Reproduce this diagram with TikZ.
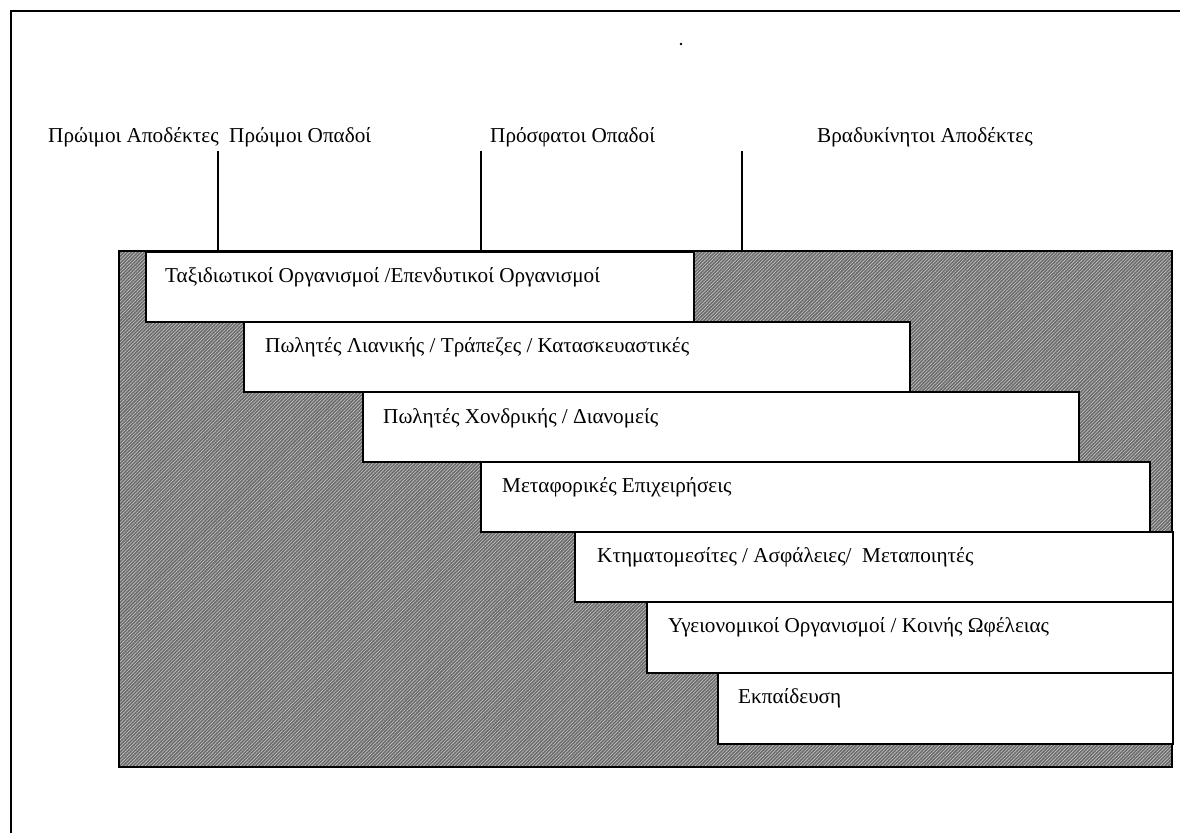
\documentclass[tikz,border=0pt]{standalone}
\usepackage{fontspec}
\setmainfont{Liberation Serif}
\usetikzlibrary{patterns.meta,calc}
\begin{document}
\begin{tikzpicture}[x=1pt,y=-1pt,
  frameline/.style={line width=1.4pt},
  grayfill/.style={fill=black!58,
     postaction={pattern={Lines[angle=45,distance=2.4pt,line width=0.6pt]},pattern color=black!22}},
  grayedge/.style={draw=black,line width=2.4pt},
  whitebox/.style={draw=black,line width=2pt,fill=white,rectangle,anchor=north west,inner sep=0pt},
  boxtext/.style={anchor=base west,font=\fontsize{21.2}{24}\selectfont,inner sep=0pt},
  toplabel/.style={anchor=base west,font=\fontsize{21.2}{24}\selectfont,inner sep=0pt},
  tick/.style={line width=1.6pt}]
\useasboundingbox (0,0) rectangle (1180,833);
% partial outer frame
\draw[frameline] (11,833) -- (11,11) -- (1180,11);
\fill (681,44) circle (1.4pt);
% labels
\node[toplabel] (l1) at (48,142) {Πρώιμοι Αποδέκτες};
\node[toplabel] (l2) at (229,142) {Πρώιμοι Οπαδοί};
\node[toplabel] (l3) at (490,142) {Πρόσφατοι Οπαδοί};
\node[toplabel] (l4) at (817,142) {Βραδυκίνητοι Αποδέκτες};
% background gray area
\fill[grayfill] (119,251) rectangle (1172,767);
\draw[grayedge] (119,251) rectangle (1172,767);
% steps
\node[whitebox,minimum width=548pt,minimum height=70pt] (b1) at (145,251) {};
\node[whitebox,minimum width=666pt,minimum height=70pt] (b2) at (243,321) {};
\node[whitebox,minimum width=716pt,minimum height=70pt] (b3) at (362,391) {};
\node[whitebox,minimum width=669pt,minimum height=70pt] (b4) at (480,461) {};
\node[whitebox,minimum width=598pt,minimum height=70pt] (b5) at (574,531) {};
\node[whitebox,minimum width=526pt,minimum height=71pt] (b6) at (646,601) {};
\node[whitebox,minimum width=455pt,minimum height=71pt] (b7) at (717,672) {};
\node[boxtext] (t1) at ($(b1.north west)+(20,31)$) {Ταξιδιωτικοί Οργανισμοί /Επενδυτικοί Οργανισμοί};
\node[boxtext] (t2) at ($(b2.north west)+(22,31)$) {Πωλητές Λιανικής / Τράπεζες / Κατασκευαστικές};
\node[boxtext] (t3) at ($(b3.north west)+(21,32)$) {Πωλητές Χονδρικής / Διανομείς};
\node[boxtext] (t4) at ($(b4.north west)+(22,31)$) {Μεταφορικές Επιχειρήσεις};
\node[boxtext] (t5) at ($(b5.north west)+(23,31)$) {Κτηματομεσίτες / Ασφάλειες/\ \ Μεταποιητές};
\node[boxtext] (t6) at ($(b6.north west)+(22,31)$) {Υγειονομικοί Οργανισμοί / Κοινής Ωφέλειας};
\node[boxtext] (t7) at ($(b7.north west)+(21,31)$) {Εκπαίδευση};
% ticks
\coordinate (c1) at (218,151);
\coordinate (c2) at (481,151);
\coordinate (c3) at (742,151);
\draw[tick] (c1) -- (c1 |- b1.north);
\draw[tick] (c2) -- (c2 |- b1.north);
\draw[tick] (c3) -- (c3 |- b1.north);
\end{tikzpicture}
\end{document}
